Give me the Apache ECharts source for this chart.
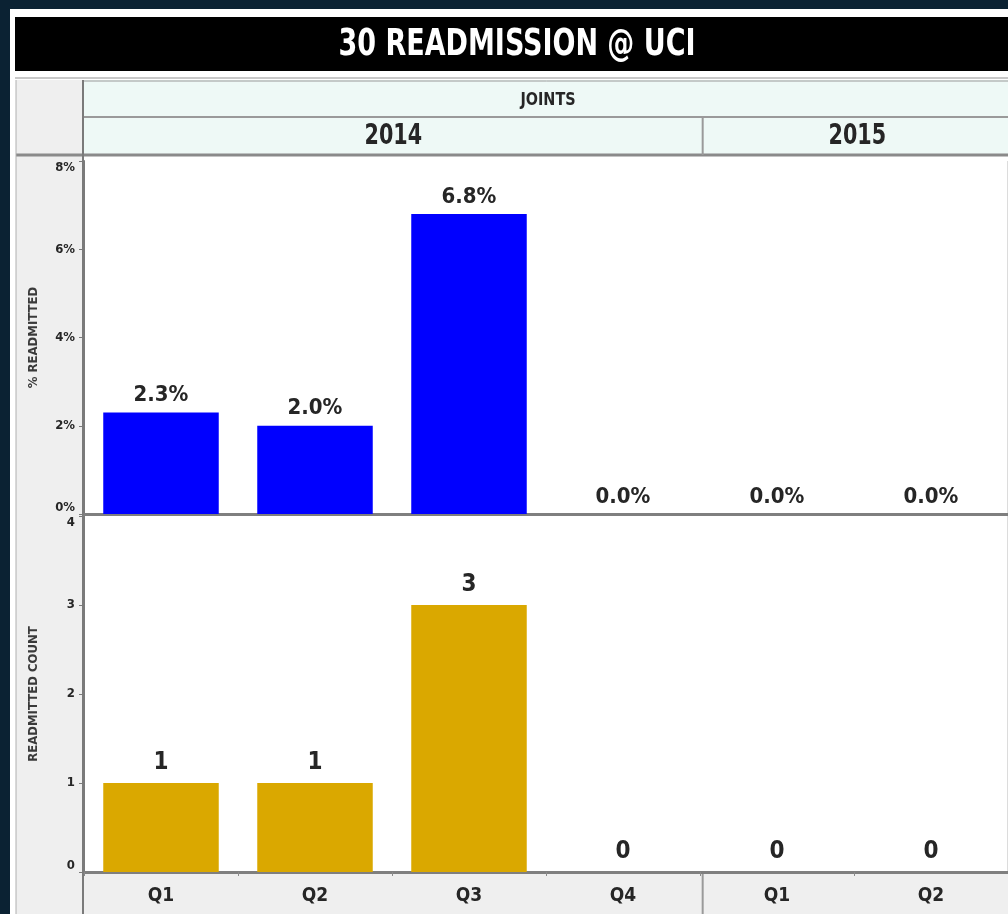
<!DOCTYPE html>
<html lang="en">
<head>
    <meta charset="UTF-8">
    <title>30 READMISSION @ UCI</title>
    <script src="https://cdn.jsdelivr.net/npm/echarts@6/dist/echarts.min.js"></script>
    <style>
        html, body { margin: 0; padding: 0; background: #0b2233; }
        #chart { width: 1008px; height: 914px; }
    </style>
</head>
<body>
    <div id="chart"></div>

    <script>
        // data
        var quarters = ['Q1', 'Q2', 'Q3', 'Q4', 'Q1', 'Q2'];
        var years = ['2014', '2015'];
        var quartersPerYear = [4, 2];
        var pctReadmitted = [2.3, 2.0, 6.8, 0, 0, 0];
        var countReadmitted = [1, 1, 3, 0, 0, 0];
        var pctTicks = [0, 8, 2];     // min, max, step
        var countTicks = [0, 4, 1];

        var FONT = '"Liberation Sans Narrow", "DejaVu Sans Condensed", "Liberation Sans", sans-serif';
        var TXT = '#262626';

        // layout
        var plotLeft = 84, plotWidth = 928;
        var topY = 161, topH = 353;
        var botY = 516, botH = 356;
        var bandW = plotWidth / quarters.length;

        var myChart = echarts.init(document.getElementById('chart'));

        function rect(x, y, w, h, fill, stroke) {
            return {
                type: 'rect', silent: true,
                shape: { x: x, y: y, width: w, height: h },
                style: { fill: fill, stroke: stroke || null, lineWidth: stroke ? 1 : 0 }
            };
        }
        function line(x1, y1, x2, y2, color, w) {
            return {
                type: 'line', silent: true,
                shape: { x1: x1, y1: y1, x2: x2, y2: y2 },
                style: { stroke: color, lineWidth: w || 1 }
            };
        }
        // text slightly stretched up, the source glyphs are tall and narrow
        function text(x, y, str, size, color, sy) {
            return {
                type: 'text', silent: true, x: x, y: y, scaleY: sy || 1.2,
                style: {
                    text: str, fill: color || TXT, font: 'bold ' + size + 'px ' + FONT,
                    textAlign: 'center', textVerticalAlign: 'middle'
                }
            };
        }

        // frame, title and header cells
        var graphics = [
            rect(10, 9, 1010, 920, '#ffffff'),
            rect(15, 17, 1005, 54, '#000000'),
            text(517, 45, '30 READMISSION @ UCI', 30, '#ffffff', 1.25),
            rect(16, 80, 67, 840, '#efefef'),
            rect(plotLeft, 80, 940, 75, '#eef9f6'),
            rect(plotLeft, 873, 940, 45, '#efefef'),
            line(15, 78, 1020, 78, '#c8c8c8', 2),
            line(plotLeft, 81, 1020, 81, '#9a9a9a', 1),
            line(plotLeft, 117, 1020, 117, '#9a9a9a', 2),
            line(16, 155, 1020, 155, '#8a8a8a', 3),
            line(83, 80, 83, 914, '#7a7a7a', 2),
            line(16, 80, 16, 914, '#b0b0b0', 1),
            text(plotLeft + plotWidth / 2, 100, 'JOINTS', 16, TXT, 1.1)
        ];
        var start = 0;
        years.forEach(function (y, i) {
            var x0 = plotLeft + start * bandW;
            var x1 = x0 + quartersPerYear[i] * bandW;
            graphics.push(text((x0 + x1) / 2, 137, y, 23));
            if (i > 0) {
                graphics.push(line(x0, 117, x0, 155, '#9a9a9a', 2));
                graphics.push(line(x0, 873, x0, 914, '#9a9a9a', 2));
            }
            start += quartersPerYear[i];
        });

        function yAxis(gridIndex, ticks, name, fmt) {
            return {
                type: 'value', gridIndex: gridIndex,
                min: ticks[0], max: ticks[1], interval: ticks[2],
                name: name, nameLocation: 'middle', nameGap: 44,
                nameTextStyle: { color: '#3a3a3a', fontFamily: FONT, fontWeight: 'bold', fontSize: 13 },
                axisLine: { show: true, lineStyle: { color: '#7a7a7a', width: 2 } },
                axisTick: { show: true, length: 5, lineStyle: { color: '#7a7a7a' } },
                splitLine: { show: false },
                axisLabel: {
                    color: TXT, fontFamily: FONT, fontWeight: 'bold', fontSize: 13, margin: 9,
                    formatter: fmt, verticalAlignMinLabel: 'bottom', verticalAlignMaxLabel: 'top'
                }
            };
        }

        function xAxis(gridIndex, showLabels) {
            return {
                type: 'category', gridIndex: gridIndex, data: quarters,
                axisLine: { show: true, lineStyle: { color: '#7f7f7f', width: 3 } },
                axisTick: { show: showLabels, length: 4, lineStyle: { color: '#8a8a8a' } },
                axisLabel: {
                    show: showLabels, color: TXT, fontFamily: FONT, fontWeight: 'bold',
                    fontSize: 19, margin: 15
                },
                splitLine: {
                    show: true,
                    interval: function (index) { return index === quartersPerYear[0]; },
                    lineStyle: { color: '#dcdcdc', width: 2 }
                }
            };
        }

        var option = {
            backgroundColor: '#0b2233',
            animation: false,
            graphic: graphics,
            grid: [
                { left: plotLeft, top: topY, width: plotWidth, height: topH },
                { left: plotLeft, top: botY, width: plotWidth, height: botH }
            ],
            xAxis: [xAxis(0, false), xAxis(1, true)],
            yAxis: [
                yAxis(0, pctTicks, '% READMITTED', '{value}%'),
                yAxis(1, countTicks, 'READMITTED COUNT', '{value}')
            ],
            series: [
                {
                    type: 'bar', xAxisIndex: 0, yAxisIndex: 0,
                    data: pctReadmitted, barWidth: '75%',
                    itemStyle: { color: '#0000ff' },
                    label: {
                        show: true, position: 'top', distance: 6,
                        color: TXT, fontFamily: FONT, fontWeight: 'bold', fontSize: 22,
                        formatter: function (p) { return p.value.toFixed(1) + '%'; }
                    }
                },
                {
                    type: 'bar', xAxisIndex: 1, yAxisIndex: 1,
                    data: countReadmitted, barWidth: '75%',
                    itemStyle: { color: '#daa800' },
                    label: {
                        show: true, position: 'top', distance: 8,
                        color: TXT, fontFamily: FONT, fontWeight: 'bold', fontSize: 24
                    }
                }
            ]
        };

        myChart.setOption(option);
    </script>
</body>
</html>
